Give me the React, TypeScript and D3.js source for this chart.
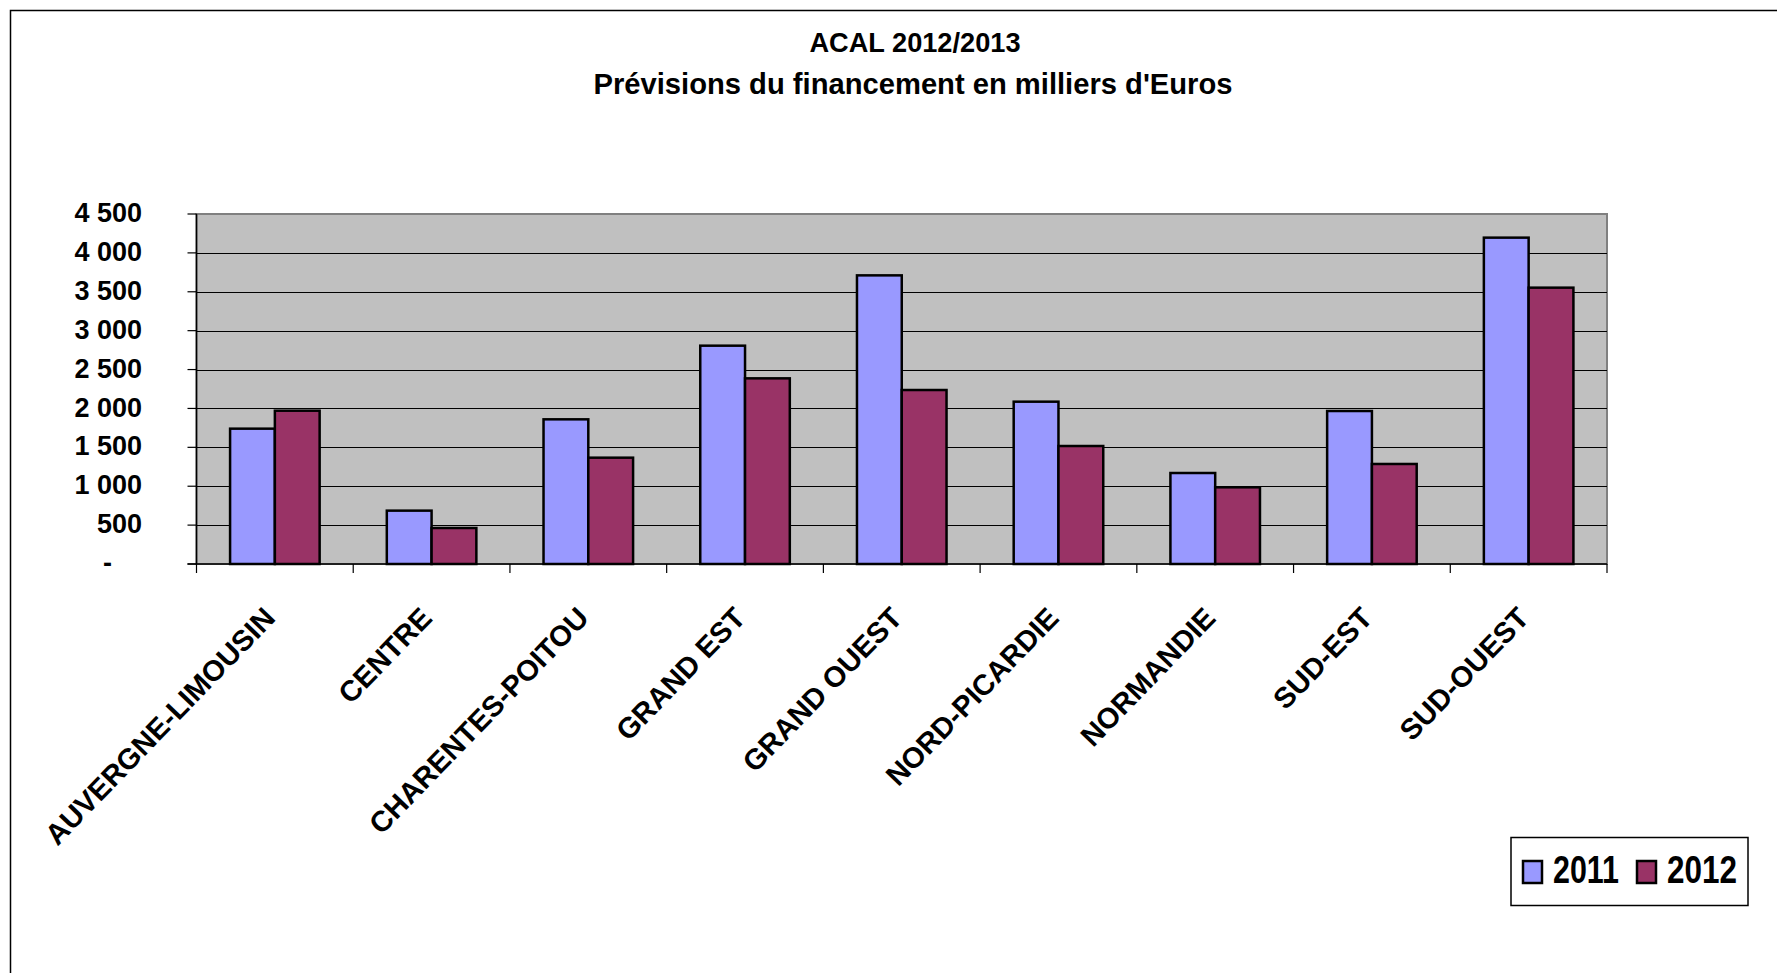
import { useEffect, useRef } from "react";
import * as d3 from "d3";

const regions = [
  "AUVERGNE-LIMOUSIN",
  "CENTRE",
  "CHARENTES-POITOU",
  "GRAND EST",
  "GRAND OUEST",
  "NORD-PICARDIE",
  "NORMANDIE",
  "SUD-EST",
  "SUD-OUEST",
];
const years = ["2011", "2012"];
const values2011 = [1740, 686, 1860, 2807, 3711, 2087, 1170, 1967, 4196];
const values2012 = [1971, 463, 1367, 2387, 2237, 1517, 986, 1286, 3553];
const yTicks = [0, 500, 1000, 1500, 2000, 2500, 3000, 3500, 4000, 4500];
const colors = ["#9999FF", "#993366"];

const W = 1777;
const H = 973;
const FONT = "'Liberation Sans', Arial, sans-serif";

const App = () => {
  const ref = useRef<SVGSVGElement>(null);

  useEffect(() => {
    if (!ref.current) return;
    const svg = d3.select(ref.current);
    svg.selectAll("*").remove();

    const plot = { left: 196.5, right: 1607, top: 214, bottom: 564 };

    const x0 = d3.scaleBand<string>().domain(regions).range([plot.left, plot.right]).padding(0);
    const x1 = d3
      .scaleBand<string>()
      .domain(years)
      .range([0, x0.bandwidth()])
      .paddingInner(0)
      .paddingOuter(0.75);
    const y = d3.scaleLinear().domain([0, 4500]).range([plot.bottom, plot.top]);

    // outer chart border
    svg
      .append("rect")
      .attr("x", 10.5)
      .attr("y", 10.5)
      .attr("width", W)
      .attr("height", H)
      .attr("fill", "#fff")
      .attr("stroke", "#000")
      .attr("stroke-width", 1.5);

    // titles
    svg
      .append("text")
      .attr("x", 915)
      .attr("y", 52)
      .attr("text-anchor", "middle")
      .attr("font-family", FONT)
      .attr("font-weight", "bold")
      .attr("font-size", 27)
      .attr("textLength", 211)
      .attr("lengthAdjust", "spacingAndGlyphs")
      .text("ACAL 2012/2013");

    svg
      .append("text")
      .attr("x", 913)
      .attr("y", 94)
      .attr("text-anchor", "middle")
      .attr("font-family", FONT)
      .attr("font-weight", "bold")
      .attr("font-size", 29)
      .attr("textLength", 639)
      .attr("lengthAdjust", "spacingAndGlyphs")
      .text("Prévisions du financement en milliers d'Euros");

    // plot area
    svg
      .append("rect")
      .attr("x", plot.left)
      .attr("y", plot.top)
      .attr("width", plot.right - plot.left)
      .attr("height", plot.bottom - plot.top)
      .attr("fill", "#C0C0C0")
      .attr("stroke", "#808080")
      .attr("stroke-width", 2);

    // gridlines
    svg
      .append("g")
      .selectAll("line")
      .data(yTicks.filter(t => t > 0 && t < 4500))
      .join("line")
      .attr("x1", plot.left)
      .attr("x2", plot.right)
      .attr("y1", d => Math.round(y(d)) + 0.5)
      .attr("y2", d => Math.round(y(d)) + 0.5)
      .attr("stroke", "#000")
      .attr("stroke-width", 1.2);

    // bars
    const series = [values2011, values2012];
    const g = svg.append("g");
    regions.forEach((r, i) => {
      years.forEach((yr, j) => {
        const v = series[j][i];
        g.append("rect")
          .attr("x", (x0(r) as number) + (x1(yr) as number))
          .attr("y", y(v))
          .attr("width", x1.bandwidth())
          .attr("height", y(0) - y(v))
          .attr("fill", colors[j])
          .attr("stroke", "#000")
          .attr("stroke-width", 2.5);
      });
    });

    // y axis
    svg
      .append("line")
      .attr("x1", plot.left)
      .attr("x2", plot.left)
      .attr("y1", plot.top)
      .attr("y2", plot.bottom)
      .attr("stroke", "#000")
      .attr("stroke-width", 1.5);
    svg
      .append("g")
      .selectAll("line")
      .data(yTicks)
      .join("line")
      .attr("x1", plot.left - 9)
      .attr("x2", plot.left)
      .attr("y1", d => y(d))
      .attr("y2", d => y(d))
      .attr("stroke", "#000")
      .attr("stroke-width", 1.2);
    svg
      .append("g")
      .selectAll("text")
      .data(yTicks)
      .join("text")
      .attr("x", d => (d === 0 ? 112 : 142))
      .attr("y", d => y(d))
      .attr("dy", "0.3em")
      .attr("text-anchor", "end")
      .attr("font-family", FONT)
      .attr("font-weight", "bold")
      .attr("font-size", 27)
      .text(d => (d === 0 ? "-" : d3.format(",")(d).replace(",", " ")));

    // x axis
    svg
      .append("line")
      .attr("x1", plot.left - 9)
      .attr("x2", plot.right)
      .attr("y1", plot.bottom)
      .attr("y2", plot.bottom)
      .attr("stroke", "#000")
      .attr("stroke-width", 1.5);
    const bounds = regions.map(r => x0(r) as number).concat([plot.right]);
    svg
      .append("g")
      .selectAll("line")
      .data(bounds)
      .join("line")
      .attr("x1", d => d)
      .attr("x2", d => d)
      .attr("y1", plot.bottom)
      .attr("y2", plot.bottom + 9)
      .attr("stroke", "#000")
      .attr("stroke-width", 1.2);

    svg
      .append("g")
      .selectAll("text")
      .data(regions)
      .join("text")
      .attr(
        "transform",
        d => `translate(${(x0(d) as number) + x0.bandwidth() / 2 - 13},605) rotate(-46)`
      )
      .attr("dy", "0.72em")
      .attr("text-anchor", "end")
      .attr("font-family", FONT)
      .attr("font-weight", "bold")
      .attr("font-size", 29)
      .text(d => d);

    // legend
    const leg = svg.append("g");
    leg
      .append("rect")
      .attr("x", 1511)
      .attr("y", 837.5)
      .attr("width", 237)
      .attr("height", 68)
      .attr("fill", "#fff")
      .attr("stroke", "#000")
      .attr("stroke-width", 1.5);
    const legX = [1523, 1637];
    const legLen = [66, 70];
    years.forEach((yr, j) => {
      leg
        .append("rect")
        .attr("x", legX[j])
        .attr("y", 861)
        .attr("width", 19)
        .attr("height", 22)
        .attr("fill", colors[j])
        .attr("stroke", "#000")
        .attr("stroke-width", 2.5);
      leg
        .append("text")
        .attr("x", legX[j] + 30)
        .attr("y", 883)
        .attr("font-family", FONT)
        .attr("font-weight", "bold")
        .attr("font-size", 39)
        .attr("textLength", legLen[j])
        .attr("lengthAdjust", "spacingAndGlyphs")
        .text(yr);
    });
  }, []);

  return (
    <svg
      ref={ref}
      width={W}
      height={H}
      style={{ position: "absolute", left: 0, top: 0, background: "#fff" }}
    />
  );
};

export default App;
